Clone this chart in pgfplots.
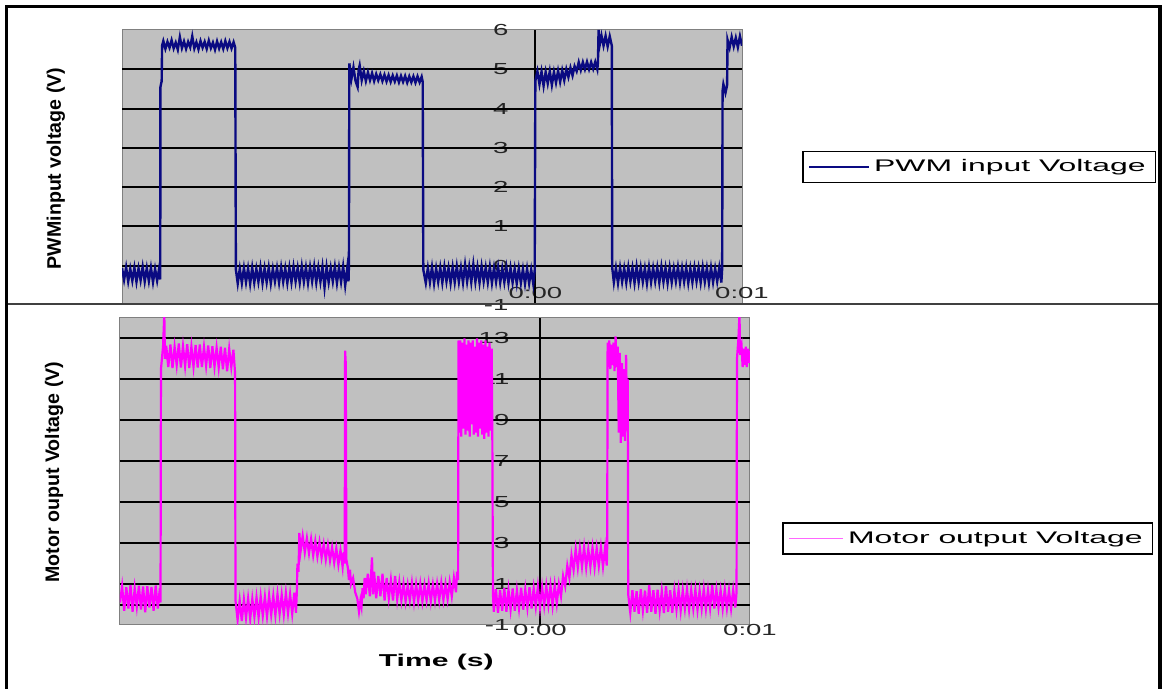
\documentclass[border=0pt]{standalone}
\usepackage{pgfplots}
\pgfplotsset{compat=1.18}
\usepackage{fontspec}
\setmainfont{Liberation Sans}
\newfontfamily\tickfont[FakeStretch=1.72]{Liberation Sans}
\newfontfamily\legfont[FakeStretch=1.9]{Liberation Sans}
\newfontfamily\timefont[FakeStretch=1.75]{Liberation Sans}
\definecolor{plotgray}{RGB}{192,192,192}
\definecolor{navyline}{RGB}{10,10,130}
\definecolor{magline}{RGB}{255,0,255}
\definecolor{bordergray}{RGB}{128,128,128}
\pgfplotsset{
  excelstyle/.style={
    scale only axis, anchor=south west,
    xmin=-2, xmax=1,
    axis background/.style={fill=plotgray},
    axis line style={draw=bordergray, line width=0.5pt},
    xtick={0,1}, xticklabels={0:00,0:01},
    major tick length=0pt,
    /pgf/number format/assume math mode=true,
    extra x ticks={0}, extra x tick labels={},
    extra x tick style={grid=major, major grid style={black, line width=1pt}},
    extra y tick labels={},
    extra y tick style={grid=major, major grid style={black, line width=1pt}},
    ticklabel style={font=\tickfont\fontsize{8}{9}\selectfont, text=black!85},
    xticklabel style={anchor=center},
    yticklabel style={anchor=east},
    ylabel style={anchor=center, rotate=0, font=\bfseries\fontsize{9.8}{11}\selectfont},
    legend style={anchor=west, draw=black, line width=0.75pt, fill=white,
      font=\legfont\fontsize{8.4}{10}\selectfont, legend cell align=left},
  }
}
\begin{document}
\begin{tikzpicture}
\fill[white] (0,0) rectangle (581.5pt,344.5pt);
\useasboundingbox (0,0) rectangle (581.5pt,344.5pt);

\begin{axis}[excelstyle,
  at={(61pt,192pt)}, width=310pt, height=137.5pt,
  ymin=-1, ymax=6, ytick={-1,0,1,2,3,4,5,6},
  extra y ticks={0,1,2,3,4,5},
  xticklabel style={yshift=6pt},
  yticklabel style={xshift=196.7pt},
  ylabel={PWMinput voltage (V)},
  ylabel style={at={(axis description cs:-0.1065,0.496)}},
  legend style={at={(axis description cs:1.097,0.502)}},
  legend image code/.code={\draw[navyline, line width=0.6pt] (0pt,0pt) -- (30pt,0pt);},
]
\addplot[navyline, line width=1.2pt] coordinates {
(-2.00,-0.06)(-1.99,-0.36)(-1.98,-0.04)(-1.97,-0.40)(-1.96,-0.08)(-1.95,-0.38)(-1.94,-0.05)(-1.93,-0.41)(-1.92,-0.07)(-1.91,-0.37)
(-1.90,-0.03)(-1.89,-0.40)(-1.88,-0.06)(-1.87,-0.39)(-1.86,-0.05)(-1.85,-0.42)(-1.84,-0.08)(-1.83,-0.38)(-1.82,-0.06)(-1.815,-0.35)
(-1.814,4.55)(-1.808,4.70)(-1.806,5.60)
(-1.80,5.72)(-1.79,5.52)(-1.78,5.70)(-1.77,5.55)(-1.76,5.74)(-1.75,5.53)(-1.74,5.68)(-1.73,5.50)(-1.72,5.82)(-1.71,5.54)
(-1.70,5.71)(-1.69,5.52)(-1.68,5.70)(-1.67,5.56)(-1.66,5.84)(-1.65,5.53)(-1.64,5.69)(-1.63,5.51)(-1.62,5.72)(-1.61,5.55)
(-1.60,5.70)(-1.59,5.52)(-1.58,5.73)(-1.57,5.54)(-1.56,5.68)(-1.55,5.50)(-1.54,5.71)(-1.53,5.53)(-1.52,5.69)(-1.51,5.52)
(-1.50,5.72)(-1.49,5.54)(-1.48,5.70)(-1.47,5.53)(-1.46,5.69)(-1.452,5.55)
(-1.449,-0.10)
(-1.44,-0.45)(-1.43,-0.08)(-1.42,-0.44)(-1.41,-0.06)(-1.40,-0.42)(-1.39,-0.07)(-1.38,-0.46)(-1.37,-0.05)(-1.36,-0.43)(-1.35,-0.08)
(-1.34,-0.41)(-1.33,-0.04)(-1.32,-0.44)(-1.31,-0.07)(-1.30,-0.42)(-1.29,-0.05)(-1.28,-0.45)(-1.27,-0.08)(-1.26,-0.40)(-1.25,-0.06)
(-1.24,-0.43)(-1.23,-0.04)(-1.22,-0.41)(-1.21,-0.07)(-1.20,-0.44)(-1.19,-0.05)(-1.18,-0.42)(-1.17,-0.03)(-1.16,-0.40)(-1.15,-0.06)
(-1.14,-0.43)(-1.13,-0.02)(-1.12,-0.41)(-1.11,-0.05)(-1.10,-0.44)(-1.09,-0.04)(-1.08,-0.40)(-1.07,-0.02)(-1.06,-0.43)(-1.05,-0.05)
(-1.04,-0.41)(-1.03,-0.03)(-1.02,-0.55)(-1.01,-0.04)(-1.00,-0.42)(-0.99,-0.06)(-0.98,-0.40)(-0.97,-0.03)(-0.96,-0.44)(-0.95,-0.05)
(-0.94,-0.41)(-0.93,-0.02)(-0.92,-0.50)(-0.91,-0.06)(-0.904,-0.40)
(-0.902,0.00)(-0.900,5.15)
(-0.89,4.75)(-0.88,5.05)(-0.87,4.70)(-0.86,4.55)(-0.855,4.98)(-0.85,5.10)(-0.84,4.72)(-0.83,4.95)(-0.82,4.70)(-0.81,4.92)
(-0.80,4.72)(-0.79,4.90)(-0.78,4.70)(-0.77,4.88)(-0.76,4.72)(-0.75,4.87)(-0.74,4.70)(-0.73,4.86)(-0.72,4.69)(-0.71,4.85)
(-0.70,4.68)(-0.69,4.84)(-0.68,4.69)(-0.67,4.84)(-0.66,4.67)(-0.65,4.83)(-0.64,4.68)(-0.63,4.83)(-0.62,4.66)(-0.61,4.82)
(-0.60,4.67)(-0.59,4.82)(-0.58,4.66)(-0.57,4.82)(-0.56,4.67)(-0.55,4.81)(-0.545,4.68)
(-0.542,-0.10)
(-0.53,-0.44)(-0.52,-0.06)(-0.51,-0.42)(-0.50,-0.04)(-0.49,-0.45)(-0.48,-0.07)(-0.47,-0.41)(-0.46,-0.05)(-0.45,-0.43)(-0.44,-0.03)
(-0.43,-0.40)(-0.42,-0.06)(-0.41,-0.44)(-0.40,-0.04)(-0.39,-0.42)(-0.38,-0.02)(-0.37,-0.41)(-0.36,-0.05)(-0.35,-0.43)(-0.34,0.02)
(-0.33,-0.40)(-0.32,-0.03)(-0.31,-0.42)(-0.30,0.03)(-0.29,-0.41)(-0.28,-0.04)(-0.27,-0.43)(-0.26,-0.02)(-0.25,-0.40)(-0.24,-0.05)
(-0.23,-0.42)(-0.22,-0.03)(-0.21,-0.44)(-0.20,-0.06)(-0.19,-0.41)(-0.18,-0.04)(-0.17,-0.43)(-0.16,-0.07)(-0.15,-0.42)(-0.14,-0.05)
(-0.13,-0.44)(-0.12,-0.06)(-0.11,-0.43)(-0.10,-0.08)(-0.09,-0.45)(-0.08,-0.07)(-0.07,-0.44)(-0.06,-0.09)(-0.05,-0.46)(-0.04,-0.08)
(-0.03,-0.45)(-0.02,-0.10)(-0.01,-0.46)(-0.003,-0.12)
(0.000,4.70)
(0.01,4.95)(0.02,4.62)(0.03,4.94)(0.04,4.58)(0.05,4.93)(0.06,4.64)(0.07,4.95)(0.08,4.60)(0.09,4.93)(0.10,4.66)
(0.11,4.96)(0.12,4.68)(0.13,4.97)(0.14,4.72)(0.15,5.00)(0.16,4.80)(0.17,5.04)(0.18,4.84)(0.19,5.08)(0.20,4.95)
(0.21,5.18)(0.22,4.98)(0.23,5.18)(0.24,5.00)(0.25,5.19)(0.26,5.00)(0.27,5.18)(0.28,5.01)(0.29,5.19)(0.30,5.00)(0.303,5.18)
(0.306,6.00)(0.31,5.58)(0.32,5.86)(0.33,5.60)(0.34,5.85)(0.35,5.58)(0.36,5.84)(0.37,5.60)
(0.372,-0.05)
(0.38,-0.42)(0.39,-0.06)(0.40,-0.44)(0.41,-0.05)(0.42,-0.41)(0.43,-0.07)(0.44,-0.43)(0.45,-0.04)(0.46,-0.40)(0.47,-0.06)
(0.48,-0.44)(0.49,-0.03)(0.50,-0.42)(0.51,-0.05)(0.52,-0.41)(0.53,-0.07)(0.54,-0.45)(0.55,-0.04)(0.56,-0.42)(0.57,-0.06)
(0.58,-0.40)(0.59,-0.05)(0.60,-0.43)(0.61,-0.03)(0.62,-0.41)(0.63,-0.06)(0.64,-0.44)(0.65,-0.05)(0.66,-0.42)(0.67,-0.07)
(0.68,-0.40)(0.69,-0.04)(0.70,-0.43)(0.71,-0.06)(0.72,-0.41)(0.73,-0.05)(0.74,-0.44)(0.75,-0.07)(0.76,-0.42)(0.77,-0.05)
(0.78,-0.40)(0.79,-0.06)(0.80,-0.43)(0.81,-0.04)(0.82,-0.41)(0.83,-0.06)(0.84,-0.44)(0.85,-0.05)(0.86,-0.42)(0.87,-0.07)
(0.88,-0.40)(0.89,-0.05)(0.90,-0.43)(0.904,-0.08)
(0.906,4.45)(0.91,4.62)(0.92,4.40)(0.928,4.60)(0.930,5.75)(0.94,5.55)(0.95,5.82)(0.96,5.58)(0.97,5.80)(0.98,5.56)(0.99,5.84)(1.00,5.60)
};
\addlegendentry{PWM input Voltage}
\end{axis}

\begin{axis}[excelstyle,
  at={(60pt,32pt)}, width=315pt, height=153.5pt,
  ymin=-1, ymax=14, ytick={-1,1,3,5,7,9,11,13},
  extra y ticks={0,1,3,5,7,9,11,13},
  xticklabel style={yshift=-2.5pt},
  yticklabel style={xshift=198.2pt},
  ylabel={Motor ouput Voltage (V)},
  ylabel style={at={(axis description cs:-0.1048,0.498)}},
  xlabel={Time (s)},
  xlabel style={at={(axis description cs:0.502,-0.1205)}, anchor=center, font=\timefont\bfseries\fontsize{8.6}{10}\selectfont},
  legend style={at={(axis description cs:1.051,0.282)}},
  legend image code/.code={\draw[magline!60, line width=0.6pt] (0pt,0pt) -- (27pt,0pt);},
]
\addplot[magline, line width=1.1pt] coordinates {
(-2.00,0.10)(-1.99,0.90)(-1.98,-0.30)(-1.97,0.85)(-1.96,-0.20)(-1.95,0.95)(-1.94,-0.35)(-1.93,0.80)(-1.92,-0.10)(-1.91,0.92)
(-1.90,-0.25)(-1.89,0.88)(-1.88,-0.38)(-1.87,0.90)(-1.86,-0.15)(-1.85,0.86)(-1.84,-0.30)(-1.83,0.93)(-1.82,-0.20)(-1.81,0.80)(-1.807,0.10)
(-1.805,11.5)(-1.795,12.6)(-1.789,14.2)(-1.786,12.0)
(-1.78,12.65)(-1.77,11.60)(-1.76,12.70)(-1.75,11.55)(-1.74,12.60)(-1.73,11.70)(-1.72,12.75)(-1.71,11.58)(-1.70,12.62)(-1.69,11.65)
(-1.68,12.72)(-1.67,11.55)(-1.66,12.60)(-1.65,11.62)(-1.64,12.68)(-1.63,11.58)(-1.62,12.70)(-1.61,11.60)(-1.60,12.58)(-1.59,11.66)
(-1.58,12.66)(-1.57,11.55)(-1.56,12.62)(-1.55,11.62)(-1.54,12.55)(-1.53,11.58)(-1.52,12.60)(-1.51,11.50)(-1.50,12.55)(-1.49,11.40)
(-1.48,12.50)(-1.47,11.60)(-1.46,12.45)(-1.452,11.30)
(-1.450,0.2)
(-1.44,-0.75)(-1.43,0.20)(-1.42,-0.80)(-1.41,0.25)(-1.40,-0.65)(-1.39,0.30)(-1.38,-0.70)(-1.37,0.28)(-1.36,-0.60)(-1.35,0.35)
(-1.34,-0.62)(-1.33,0.40)(-1.32,-0.55)(-1.31,0.38)(-1.30,-0.58)(-1.29,0.45)(-1.28,-0.50)(-1.27,0.42)(-1.26,-0.52)(-1.25,0.50)
(-1.24,-0.45)(-1.23,0.48)(-1.22,-0.48)(-1.21,0.55)(-1.20,-0.42)(-1.19,0.50)(-1.18,-0.45)(-1.17,0.58)(-1.162,-0.40)
(-1.158,0.60)(-1.155,2.00)(-1.150,1.60)(-1.146,3.50)
(-1.14,2.60)(-1.13,3.35)(-1.12,2.55)(-1.11,3.25)(-1.10,2.50)(-1.09,3.20)(-1.08,2.40)(-1.07,3.10)(-1.06,2.35)(-1.05,3.05)
(-1.04,2.30)(-1.03,2.95)(-1.02,2.20)(-1.01,2.90)(-1.00,2.15)(-0.99,2.80)(-0.98,2.05)(-0.97,2.75)(-0.96,1.95)(-0.95,2.65)
(-0.94,1.85)(-0.935,2.55)(-0.930,2.00)
(-0.928,12.4)(-0.925,11.8)(-0.922,2.2)
(-0.915,1.8)(-0.91,1.2)(-0.905,1.7)(-0.90,1.0)(-0.89,1.3)(-0.88,0.6)(-0.87,0.3)(-0.862,-0.35)(-0.855,0.2)(-0.85,-0.1)
(-0.845,0.8)(-0.84,0.3)(-0.835,1.3)(-0.83,0.5)(-0.82,1.5)(-0.81,0.4)(-0.80,2.3)(-0.795,0.5)(-0.79,1.6)(-0.78,0.3)
(-0.77,1.4)(-0.76,0.4)(-0.75,1.5)(-0.74,0.2)(-0.73,1.3)(-0.72,0.3)(-0.71,1.2)(-0.70,0.2)(-0.69,1.4)(-0.68,0.25)(-0.67,1.1)
(-0.66,0.20)(-0.65,1.00)(-0.64,0.15)(-0.63,0.95)(-0.62,0.20)(-0.61,1.05)(-0.60,0.12)(-0.59,0.98)(-0.58,0.18)(-0.57,1.00)
(-0.56,0.15)(-0.55,0.95)(-0.54,0.20)(-0.53,1.02)(-0.52,0.15)(-0.51,0.97)(-0.50,0.18)(-0.49,1.00)(-0.48,0.20)(-0.47,1.05)
(-0.46,0.22)(-0.45,1.00)(-0.44,0.25)(-0.43,1.10)(-0.42,0.40)(-0.41,1.30)(-0.40,0.60)(-0.395,1.60)(-0.39,1.20)
(-0.388,12.9)
(-0.385,8.4)(-0.38,12.9)(-0.375,8.2)(-0.37,12.8)(-0.365,8.6)(-0.36,13.0)(-0.355,8.3)(-0.35,12.7)(-0.345,8.5)(-0.34,12.9)
(-0.335,8.2)(-0.33,12.8)(-0.325,8.8)(-0.32,12.9)(-0.315,8.3)(-0.31,12.6)(-0.305,8.4)(-0.30,13.0)(-0.295,8.2)(-0.29,12.8)
(-0.285,8.6)(-0.28,12.9)(-0.275,8.3)(-0.27,12.7)(-0.265,8.1)(-0.26,12.9)(-0.255,8.4)(-0.25,12.6)(-0.245,8.2)(-0.24,12.8)
(-0.235,8.5)(-0.23,12.5)(-0.227,8.3)
(-0.224,0.5)
(-0.22,-0.35)(-0.21,0.75)(-0.20,-0.40)(-0.19,0.70)(-0.18,-0.30)(-0.17,0.80)(-0.16,-0.35)(-0.15,0.72)(-0.14,-0.25)(-0.13,0.78)
(-0.12,-0.30)(-0.11,0.70)(-0.10,-0.20)(-0.09,0.82)(-0.08,-0.25)(-0.07,0.75)(-0.06,-0.15)(-0.05,0.85)(-0.04,-0.20)(-0.03,0.80)
(-0.02,-0.10)(-0.01,0.88)(0.00,-0.15)(0.01,0.85)(0.02,-0.05)(0.03,0.90)(0.04,0.00)(0.05,0.92)(0.06,-0.05)(0.07,0.95)
(0.08,0.05)(0.09,1.00)
(0.10,0.40)(0.11,1.40)(0.12,0.90)(0.13,1.90)(0.14,1.30)(0.15,2.40)(0.16,1.70)(0.17,2.70)
(0.18,1.80)(0.19,2.75)(0.20,1.85)(0.21,2.80)(0.22,1.80)(0.23,2.70)(0.24,1.85)(0.25,2.78)(0.26,1.82)(0.27,2.75)
(0.28,1.88)(0.29,2.80)(0.30,1.85)(0.31,2.78)(0.318,1.90)(0.320,2.80)
(0.322,12.8)
(0.325,11.6)(0.33,12.9)(0.335,11.5)(0.34,12.7)(0.345,11.7)(0.35,12.8)(0.355,11.4)(0.36,13.1)(0.365,11.6)(0.37,12.6)
(0.375,8.4)(0.38,12.3)(0.385,7.9)(0.39,11.8)(0.395,8.2)(0.40,11.5)(0.405,8.0)(0.41,12.2)(0.415,8.5)(0.418,11.0)
(0.420,0.5)
(0.43,-0.40)(0.44,0.70)(0.45,-0.35)(0.46,0.65)(0.47,-0.45)(0.48,0.75)(0.49,-0.30)(0.50,0.68)(0.51,-0.40)(0.52,0.95)
(0.53,-0.35)(0.54,0.70)(0.55,-0.45)(0.56,0.72)(0.57,-0.30)(0.58,0.65)(0.59,-0.42)(0.60,0.90)(0.61,-0.35)(0.62,0.70)
(0.63,-0.40)(0.64,0.68)(0.65,-0.25)(0.66,0.72)(0.67,-0.30)(0.68,0.70)(0.69,-0.20)(0.70,0.75)(0.71,-0.25)(0.72,0.70)
(0.73,-0.20)(0.74,0.72)(0.75,-0.25)(0.76,0.68)(0.77,-0.20)(0.78,0.75)(0.79,-0.22)(0.80,0.70)(0.81,-0.18)(0.82,0.95)
(0.83,-0.20)(0.84,0.72)(0.85,-0.15)(0.86,0.70)(0.87,-0.20)(0.88,0.75)(0.89,-0.18)(0.90,0.70)(0.91,-0.20)(0.92,0.72)
(0.93,-0.15)(0.936,0.60)
(0.938,12.0)(0.945,13.0)(0.950,14.2)(0.953,12.2)
(0.96,12.6)(0.965,11.6)(0.97,12.5)(0.975,11.7)(0.98,12.6)(0.985,11.6)(0.99,12.5)(0.995,11.8)(1.00,12.4)
};
\addlegendentry{Motor output Voltage}
\end{axis}

% frame and separator of the screenshot
\draw[black!75, line width=1.2pt] (3.25pt,192.5pt) -- (580pt,192.5pt);
\draw[black, line width=1.75pt] (3.25pt,-5pt) -- (3.25pt,341.25pt) -- (580pt,341.25pt) -- (580pt,-5pt);
\end{tikzpicture}
\end{document}
